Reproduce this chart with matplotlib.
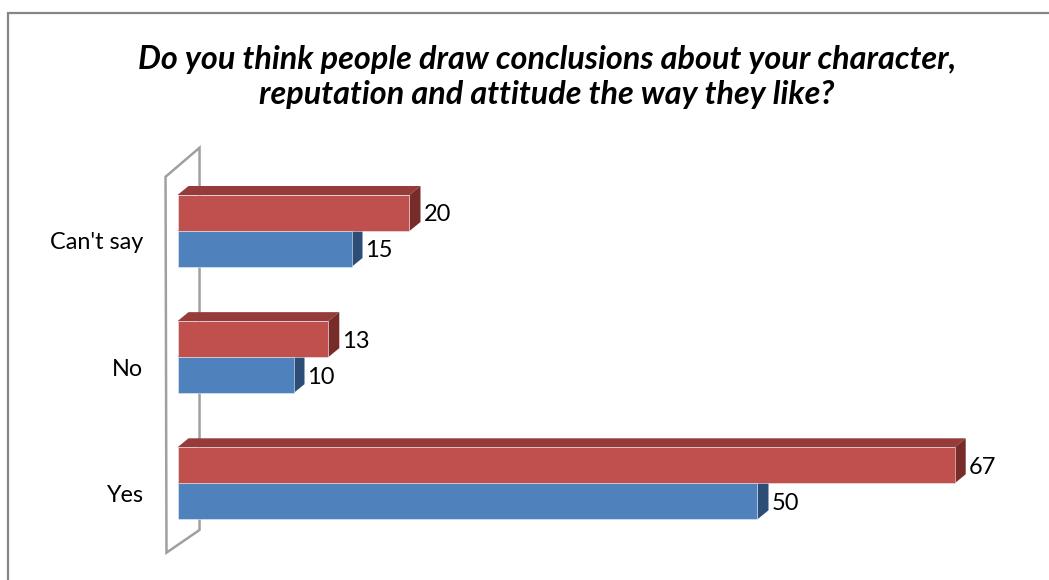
import matplotlib
matplotlib.use("Agg")
import matplotlib.pyplot as plt
from matplotlib.patches import Polygon, Rectangle
from matplotlib.transforms import ScaledTranslation

# ---- data ----
categories = ["Yes", "No", "Can't say"]
series_red = [67, 13, 20]
series_blue = [50, 10, 15]
title = "Do you think people draw conclusions about your character,\nreputation and attitude the way they like?"

# ---- style ----
W, H, DPI = 1049, 580, 100
RED_FRONT, RED_TOP, RED_SIDE = "#C0504D", "#953B39", "#772C2A"
BLUE_FRONT, BLUE_TOP, BLUE_SIDE = "#4F81BD", "#3B6392", "#2C4D75"
FONT = ["Lato", "DejaVu Sans"]

PX_PER_UNIT = 11.6      # horizontal pixels per value unit
PX_PER_CAT = 126.15     # vertical pixels between categories
X0_PX = 177.5           # pixel of value 0 (from left)
Y0_PX = 483.3           # pixel of first category centre (from top)
XMAX = 72
YLIM = (-0.6, 2.6)
BAR_H = 36 / PX_PER_CAT
DX = 11 / PX_PER_UNIT   # depth in data units
DY = 9 / PX_PER_CAT

fig = plt.figure(figsize=(W / DPI, H / DPI), dpi=DPI)
ax_w = XMAX * PX_PER_UNIT
ax_h = (YLIM[1] - YLIM[0]) * PX_PER_CAT
ax_bottom_px = H - (Y0_PX - YLIM[0] * PX_PER_CAT)
ax = fig.add_axes([X0_PX / W, ax_bottom_px / H, ax_w / W, ax_h / H])
ax.set_xlim(0, XMAX)
ax.set_ylim(*YLIM)
for s in ax.spines.values():
    s.set_visible(False)
ax.set_xticks([])
ax.patch.set_alpha(0)

# outer chart border (left & top visible)
fig.patches.append(Rectangle((8 / W, -0.1), 1.2, (H - 13) / H + 0.1,
                             transform=fig.transFigure, fill=False,
                             edgecolor="#868686", lw=1.6))

# back wall (side wall of 3D chart)
wall = Polygon([(-1.03, 2.43), (1.9, 2.66), (1.9, -0.37), (-0.95, -0.55)],
               closed=True, fill=False, edgecolor="#A0A0A0", lw=1.8,
               clip_on=False, zorder=1)
ax.add_patch(wall)


def bar3d(x, yb, h, front, top, side, z):
    ax.add_patch(Polygon([(0, yb + h), (DX, yb + h + DY), (x + DX, yb + h + DY), (x, yb + h)],
                         closed=True, facecolor=top, edgecolor="none", zorder=z, clip_on=False))
    ax.add_patch(Polygon([(x, yb), (x + DX, yb + DY), (x + DX, yb + h + DY), (x, yb + h)],
                         closed=True, facecolor=side, edgecolor="none", zorder=z, clip_on=False))
    ax.barh(yb + h / 2, x, height=h, left=0, color=front, zorder=z + 0.5,
            edgecolor="#E8EEF6", linewidth=0.4)


for i, (r, b) in enumerate(zip(series_red, series_blue)):
    yb_blue = i - BAR_H
    yb_red = i
    bar3d(b, yb_blue, BAR_H, BLUE_FRONT, BLUE_TOP, BLUE_SIDE, 2 + i * 2)
    bar3d(r, yb_red, BAR_H, RED_FRONT, RED_TOP, RED_SIDE, 3 + i * 2)
    ax.text(b + DX + 3 / PX_PER_UNIT, yb_blue + BAR_H / 2 - 2 / PX_PER_CAT, f"{b}",
            fontsize=17, family=FONT, va="center", ha="left", zorder=10)
    ax.text(r + DX + 3 / PX_PER_UNIT, yb_red + BAR_H / 2 - 2 / PX_PER_CAT, f"{r}",
            fontsize=17, family=FONT, va="center", ha="left", zorder=10)

ax.set_yticks(range(len(categories)))
ax.set_yticklabels(categories, fontsize=16.8, family=FONT)
ax.tick_params(axis="y", length=0, pad=25)
offset = ScaledTranslation(0, -10 / DPI, fig.dpi_scale_trans)
for lab in ax.get_yticklabels():
    lab.set_transform(lab.get_transform() + offset)

fig.text(547 / W, 1 - 77 / H, title, ha="center", va="center", fontsize=23.3,
         fontweight="bold", fontstyle="italic", family=FONT, linespacing=1.25)

fig.savefig("out.png", dpi=DPI)
